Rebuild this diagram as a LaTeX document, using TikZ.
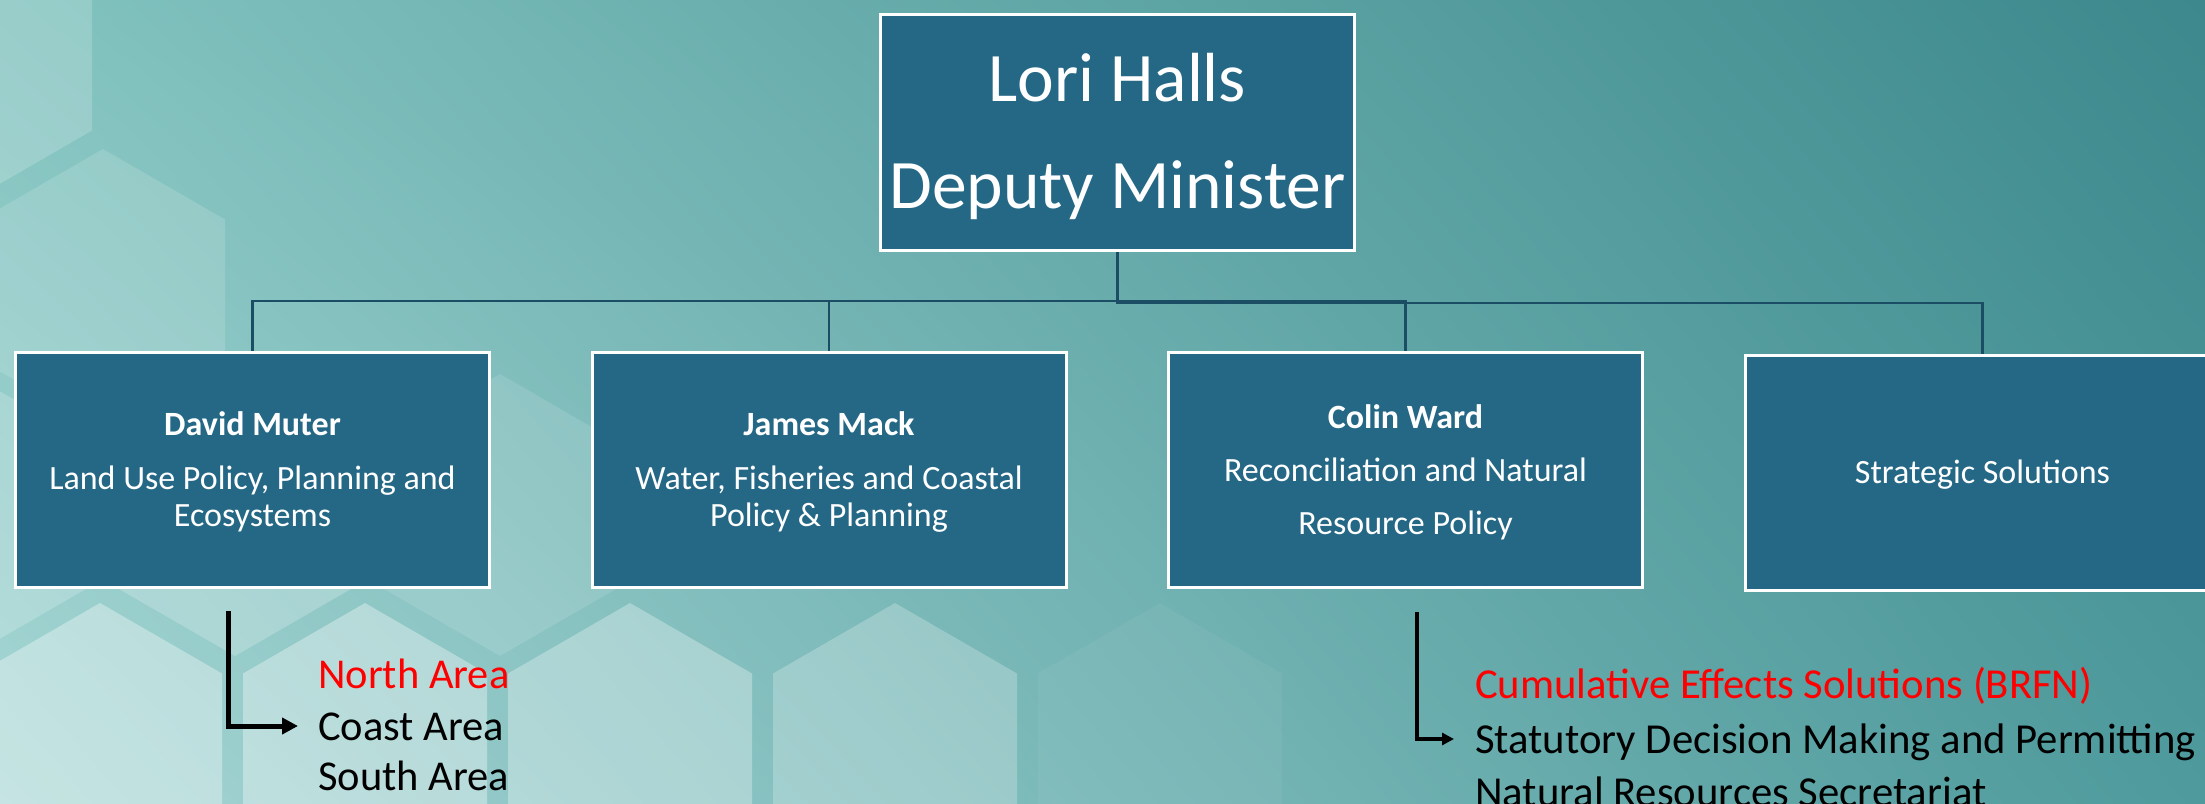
\documentclass[tikz,border=0pt]{standalone}
\usepackage{fontspec}
\setmainfont{Carlito}
\usetikzlibrary{arrows.meta,calc,shadings}
\definecolor{boxblue}{HTML}{256886}
\definecolor{connc}{HTML}{1B4E65}
\definecolor{bgUL}{HTML}{82C3BF}
\definecolor{bgUR}{HTML}{3C888C}
\definecolor{bgLL}{HTML}{A6D6D4}
\definecolor{bgLR}{HTML}{4E9A9C}
\definecolor{redtxt}{HTML}{FF0000}
\newcommand\hexcell[3]{\fill[white,fill opacity=#3] (#1,#2-141) -- (#1+122,#2-70.5) -- (#1+122,#2+70.5) -- (#1,#2+141) -- (#1-122,#2+70.5) -- (#1-122,#2-70.5) -- cycle;}
\begin{document}
\begin{tikzpicture}[x=1pt,y=-1pt,
  box/.style={draw=white, line width=3pt, fill=boxblue, text=white, minimum width=474pt, minimum height=235pt, inner sep=0pt, align=center},
  connline/.style={draw=connc, line width=2.4pt},
  bigarrow/.style={draw=black, line width=5pt, -{Triangle[length=16pt,width=16pt]}},
  smallarrow/.style={draw=black, line width=4.5pt, -{Triangle[length=12pt,width=12pt]}},
  listL/.style={anchor=base west, inner sep=0pt, font=\fontsize{42.5}{50}\selectfont},
  listR/.style={anchor=base west, inner sep=0pt, font=\fontsize{42.7}{52}\selectfont}]
\useasboundingbox (0,0) rectangle (2205,803);
\clip (0,0) rectangle (2205,803);
\shade[upper left=bgUL, upper right=bgUR, lower left=bgLL, lower right=bgLR] (0,0) rectangle (2205,803);
% honeycomb decoration
\hexcell{-30}{60}{0.18}
\hexcell{103}{290}{0.14}
\hexcell{-30}{515}{0.2}
\hexcell{235}{515}{0.22}
\hexcell{500}{515}{0.12}
\hexcell{100}{744}{0.35}
\hexcell{365}{744}{0.35}
\hexcell{630}{744}{0.3}
\hexcell{895}{744}{0.24}
\hexcell{1160}{744}{0.05}
% boxes
\node[box, minimum height=236pt, font=\fontsize{69.5}{107}\selectfont] (top) at (1117.5,132.5) {\rule{0pt}{57pt}Lori Halls\\Deputy Minister};
\node[box, font=\fontsize{34}{37}\selectfont] (david) at (252.5,470) {\rule{0pt}{28pt}\textbf{David Muter}\\[17pt]Land Use Policy, Planning and\\Ecosystems};
\node[box, font=\fontsize{34}{37}\selectfont] (james) at (829,470) {\rule{0pt}{28pt}\textbf{James Mack}\\[17pt]Water, Fisheries and Coastal\\Policy \& Planning};
\node[box, font=\fontsize{34}{53}\selectfont] (colin) at (1405.5,470) {\rule{0pt}{28pt}\textbf{Colin Ward}\\Reconciliation and Natural\\Resource Policy};
\node[box, font=\fontsize{34}{40}\selectfont] (strat) at (1982.5,472.5) {\rule{0pt}{28pt}Strategic Solutions};
% connectors
\coordinate (busA) at (0,301);
\coordinate (busB) at (0,303);
\draw[connline] (top.south) |- (david.north |- busA) -- (david.north);
\draw[connline] (top.south) |- (colin.north |- busA) -- (colin.north);
\draw[connline] (james.north) -- (james.north |- busA);
\draw[connline] (top.south) |- (strat.north |- busB) -- (strat.north);
% lists
\node[listL, text=redtxt] (north) at (318,688) {North Area};
\node[listL] (coast) at (318,740) {Coast Area};
\node[listL] (south) at (318,790) {South Area};
\node[listR, text=redtxt] (cum) at (1475,698) {Cumulative Effects Solutions (BRFN)};
\node[listR] (stat) at (1475,753) {Statutory Decision Making and Permitting};
\node[listR] (nat) at (1475,806) {Natural Resources Secretariat};
% arrows
\coordinate (dStart) at (228.5,611);
\coordinate (cStart) at (1417,612);
\draw[bigarrow] (dStart) |- ($(coast.base west)+(-20,-14)$);
\draw[smallarrow] (cStart) |- ($(stat.base west)+(-21,-14)$);
\end{tikzpicture}
\end{document}
